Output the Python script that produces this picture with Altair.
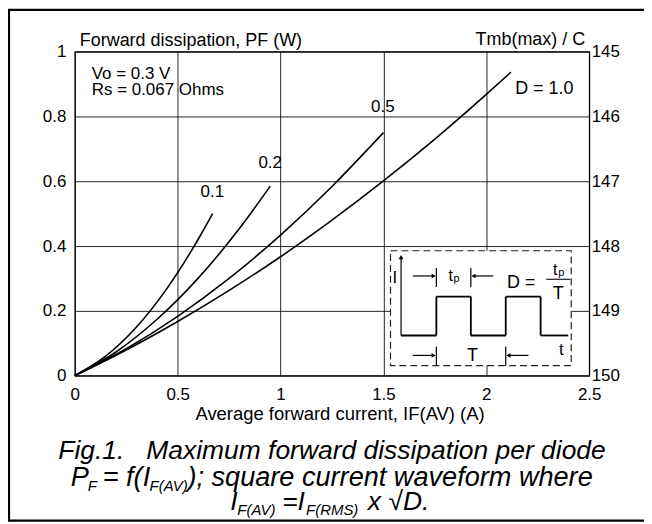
import altair as alt
import pandas as pd

FONT = "Liberation Sans"

# ---- data ----
d10_i = [0, 0.25, 0.5, 0.75, 1.0, 1.25, 1.5, 1.75, 2.0, 2.12]
d10_p = [0, 0.079, 0.167, 0.263, 0.367, 0.480, 0.601, 0.730, 0.868, 0.937]
d05_i = [0, 0.25, 0.5, 0.75, 1.0, 1.25, 1.5]
d05_p = [0, 0.083, 0.183, 0.300, 0.434, 0.584, 0.750]
d02_i = [0, 0.2, 0.4, 0.6, 0.8, 0.95]
d02_p = [0, 0.073, 0.174, 0.301, 0.454, 0.585]
d01_i = [0, 0.15, 0.3, 0.45, 0.6, 0.67]
d01_p = [0, 0.060, 0.150, 0.271, 0.421, 0.500]

x_ticks = [0, 0.5, 1, 1.5, 2, 2.5]
y_ticks = [0, 0.2, 0.4, 0.6, 0.8, 1.0]
tmb_labels = ["150", "149", "148", "147", "146", "145"]

rows = []
for name, xs, ys in [("1.0", d10_i, d10_p), ("0.5", d05_i, d05_p),
                     ("0.2", d02_i, d02_p), ("0.1", d01_i, d01_p)]:
    for a, b in zip(xs, ys):
        rows.append({"I": a, "P": b, "D": name})
df = pd.DataFrame(rows)

W, H = 516, 325

xenc = alt.X("I:Q", scale=alt.Scale(domain=[0, 2.5], nice=False),
             axis=alt.Axis(values=x_ticks, format="~g", grid=True, ticks=False,
                           domain=False, labelPadding=11, labelFlush=False,
                           labelOverlap=False, title=None))

lines = alt.Chart(df).mark_line(color="black", strokeWidth=1.6, interpolate="monotone").encode(
    x=xenc,
    y=alt.Y("P:Q", scale=alt.Scale(domain=[0, 1], nice=False),
            axis=alt.Axis(values=y_ticks, format="~g", grid=True, ticks=False,
                          domain=False, labelPadding=9, labelFlush=False,
                          labelOverlap=False, title=None)),
    detail="D:N",
)

label_expr = "[" + ",".join("'%s'" % s for s in tmb_labels) + "][round(datum.value*5)]"
right_axis = alt.Chart(df).mark_line(opacity=0).encode(
    x=alt.X("I:Q", scale=alt.Scale(domain=[0, 2.5], nice=False)),
    y=alt.Y("P:Q", scale=alt.Scale(domain=[0, 1], nice=False),
            axis=alt.Axis(orient="right", values=y_ticks, labelExpr=label_expr,
                          grid=False, ticks=False, domain=False, labelPadding=2,
                          labelFlush=False, labelOverlap=False, title=None)),
    detail="D:N",
)

ONE = alt.Data(values=[{}])


def txt(s, x, y, size=17, align="left", baseline="middle", style="normal"):
    return alt.Chart(ONE).mark_text(text=s, font=FONT, fontSize=size, align=align,
                                    baseline=baseline, fontStyle=style,
                                    color="black").encode(x=alt.value(x), y=alt.value(y))


def seg(x1, y1, x2, y2, w=1.2, dash=None):
    kw = dict(color="black", strokeWidth=w)
    if dash:
        kw["strokeDash"] = dash
    return alt.Chart(ONE).mark_rule(**kw).encode(
        x=alt.value(x1), y=alt.value(y1), x2=alt.value(x2), y2=alt.value(y2))


def head(x, y, shape, size=22):
    return alt.Chart(ONE).mark_point(shape=shape, filled=True, size=size, color="black",
                                     opacity=1).encode(x=alt.value(x), y=alt.value(y))


layers = [lines, right_axis]

# curve labels and parameters
layers += [
    txt("0.1", 138, 141, align="center"),
    txt("0.2", 196, 112, align="center"),
    txt("0.5", 309, 56, align="center"),
    txt("D = 1.0", 471, 37, size=18, align="center"),
    txt("Vo = 0.3 V", 17, 22),
    txt("Rs = 0.067 Ohms", 17, 38),
    txt("Forward dissipation, PF (W)", 5, -6, size=18, baseline="alphabetic"),
    txt("Tmb(max) / C", 512, -7, size=18, align="right", baseline="alphabetic"),
    txt("Average forward current, IF(AV) (A)", 121, 369, size=18.5, align="left",
        baseline="alphabetic"),
]

# inset box
box = alt.Chart(ONE).mark_rect(fill="white", stroke="#222", strokeDash=[7, 4],
                               strokeWidth=1.2).encode(
    x=alt.value(316.7), x2=alt.value(498), y=alt.value(199.7), y2=alt.value(315))
layers.append(box)

base_y, top_y = 284.7, 245.7
wave = [(327.3, base_y), (362.7, base_y), (362.7, top_y), (397.3, top_y), (397.3, base_y),
        (432.3, base_y), (432.3, top_y), (467.3, top_y), (467.3, base_y), (495, base_y)]
for (a, b), (c, d) in zip(wave[:-1], wave[1:]):
    layers.append(seg(a, b, c, d, w=1.8))

layers += [
    seg(327.3, base_y, 327.3, 207, w=1.2), head(327.3, 206, "triangle-up", 24),
    # tp arrows
    seg(339, 225, 360, 225), head(360, 225, "triangle-right"),
    seg(420, 225, 400, 225), head(400, 225, "triangle-left"),
    seg(362.7, 217, 362.7, 236), seg(397.3, 217, 397.3, 236),
    # T arrows
    seg(339, 304.7, 360, 304.7), head(360, 304.7, "triangle-right"),
    seg(455, 304.7, 435, 304.7), head(435, 304.7, "triangle-left"),
    seg(362.7, 295.7, 362.7, 315), seg(432.3, 295.7, 432.3, 315),
    txt("I", 321, 227, size=17, align="center"),
    txt("t", 488, 299, size=17, align="center"),
    txt("t", 377, 225, size=16, align="center"),
    txt("p", 383, 228, size=11, align="center"),
    txt("T", 399, 305, size=18, align="center"),
    txt("D =", 462, 232, size=18, align="right"),
    seg(473, 228.3, 497, 228.3, w=1.1),
    txt("t", 482, 219, size=16, align="center"),
    txt("p", 488, 222, size=11, align="center"),
    txt("T", 485, 243, size=18, align="center"),
]

# caption
CAP = 26.5
CAP2 = 27.2
SUB = 15
B2, S2 = 436, 441
B3, S3 = 459.5, 464.5
layers += [
    txt("Fig.1.\u00a0\u00a0\u00a0Maximum forward dissipation per diode", 258, 409, size=CAP,
        align="center", baseline="alphabetic", style="italic"),
    txt("P", -4, B2, size=CAP2, baseline="alphabetic", style="italic"),
    txt("F", 13, S2, size=SUB, baseline="alphabetic", style="italic"),
    txt("= f(I", 28, B2, size=CAP2, baseline="alphabetic", style="italic"),
    txt("F(AV)", 75, S2, size=SUB, baseline="alphabetic", style="italic"),
    txt("); square current waveform where", 113, B2, size=CAP2, baseline="alphabetic",
        style="italic"),
    txt("I", 156, B3, size=CAP, baseline="alphabetic", style="italic"),
    txt("F(AV)", 163, S3, size=SUB, baseline="alphabetic", style="italic"),
    txt("=I", 208, B3, size=CAP, baseline="alphabetic", style="italic"),
    txt("F(RMS)", 232, S3, size=SUB, baseline="alphabetic", style="italic"),
    txt("x \u221aD.", 294, B3, size=CAP, baseline="alphabetic", style="italic"),
]

# outer frame (left, top, bottom)
layers += [
    seg(-66, -42, -66, 471, w=2.2),
    seg(-67, -42, 580, -42, w=2.2),
    seg(-67, 470.5, 580, 470.5, w=2.2),
]

chart = alt.layer(*layers).resolve_axis(y="independent").properties(
    width=W, height=H,
    autosize=alt.AutoSizeParams(type="none"),
    padding={"left": 67, "top": 43, "right": 55, "bottom": 146},
    background="white",
).configure_view(stroke="black", strokeWidth=1.2).configure_axis(
    labelFont=FONT, labelFontSize=17, labelColor="black",
    gridColor="black", gridWidth=1, gridOpacity=0.85,
)

chart.save("out.html", embed_options={"renderer": "svg", "actions": False})
